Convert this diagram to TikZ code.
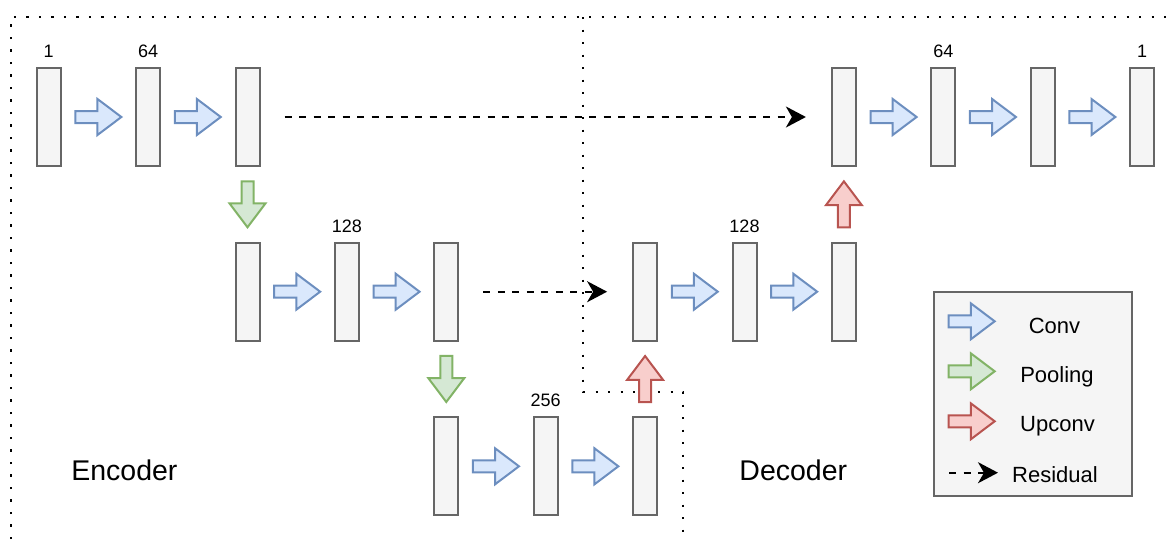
\documentclass[tikz,border=0pt]{standalone}
\usepackage{fontspec}
\setmainfont{Liberation Sans}
\usepackage{xcolor}
\usetikzlibrary{shapes.arrows,arrows.meta}

\definecolor{boxfill}{HTML}{F5F5F5}
\definecolor{boxline}{HTML}{666666}
\definecolor{convfill}{HTML}{DAE8FC}
\definecolor{convline}{HTML}{6C8EBF}
\definecolor{poolfill}{HTML}{D5E8D4}
\definecolor{poolline}{HTML}{82B366}
\definecolor{upfill}{HTML}{F8CECC}
\definecolor{upline}{HTML}{B85450}

\tikzset{
  block/.style={draw=boxline, fill=boxfill, line width=2pt, rectangle,
    minimum width=24pt, minimum height=98pt, inner sep=0pt},
  numlbl/.style={font=\fontsize{18}{20}\selectfont, inner sep=0pt, label distance=9pt},
  fatarrow/.style={single arrow, draw, line width=2pt, inner sep=5pt,
    minimum height=46pt, minimum width=34pt, single arrow head extend=12pt,
    single arrow tip angle=74},
  conv/.style={fatarrow, draw=convline, fill=convfill},
  pool/.style={fatarrow, draw=poolline, fill=poolfill, rotate=-90},
  upconv/.style={fatarrow, draw=upline, fill=upfill, rotate=90},
  residual/.style={line width=2pt, dash pattern=on 7pt off 7.5pt,
    -{Stealth[length=20pt, width=21pt, inset=6pt]}},
  frame/.style={line width=2.2pt, dash pattern=on 2.2pt off 10.3pt},
}

\begin{document}
\begin{tikzpicture}[x=1pt, y=-1pt, font=\fontsize{22}{24}\selectfont]
  \useasboundingbox (0,0) rectangle (1171,539);

  % dotted regions
  \draw[frame] (11,539) -- (11,17) -- (1171,17);
  \draw[frame] (583,17) -- (583,392) -- (683,392) -- (683,539);

  % encoder, level 1
  \node[block, label={[numlbl]above:1}] (e11) at (48.7,117) {};
  \node[block, label={[numlbl]above:64}] (e12) at (148.1,117) {};
  \node[block] (e13) at (247.5,117) {};
  \node[conv] (c11) at (94.4,117) {};
  \node[conv] (c12) at (193.8,117) {};

  % encoder, level 2
  \node[block] (e21) at (247.5,291.7) {};
  \node[block, label={[numlbl]above:128}] (e22) at (346.9,291.7) {};
  \node[block] (e23) at (446.3,291.7) {};
  \node[conv] (c21) at (293.2,291.7) {};
  \node[conv] (c22) at (392.6,291.7) {};

  % bottom level
  \node[block] (b1) at (446.3,466.3) {};
  \node[block, label={[numlbl]above:256}] (b2) at (545.7,466.3) {};
  \node[block] (b3) at (645.1,466.3) {};
  \node[conv] (c31) at (492.0,466.3) {};
  \node[conv] (c32) at (591.4,466.3) {};

  % decoder, level 2
  \node[block] (d21) at (645.1,291.7) {};
  \node[block, label={[numlbl]above:128}] (d22) at (744.5,291.7) {};
  \node[block] (d23) at (843.9,291.7) {};
  \node[conv] (c41) at (690.8,291.7) {};
  \node[conv] (c42) at (790.2,291.7) {};

  % decoder, level 1
  \node[block] (d11) at (843.9,117) {};
  \node[block, label={[numlbl]above:64}] (d12) at (943.3,117) {};
  \node[block] (d13) at (1042.7,117) {};
  \node[block, label={[numlbl]above:1}] (d14) at (1142.1,117) {};
  \node[conv] (c51) at (889.6,117) {};
  \node[conv] (c52) at (989.0,117) {};
  \node[conv] (c53) at (1088.4,117) {};

  % pooling / upconv
  \node[pool] (p1) at (247.5,200.3) {};
  \node[pool] (p2) at (446.3,375) {};
  \node[upconv] (u1) at (645.1,383) {};
  \node[upconv] (u2) at (843.9,208.3) {};

  % skip connections
  \draw[residual, shorten <=24pt, shorten >=25pt] (e13.east) -- (d11.west);
  \draw[residual, shorten <=24pt, shorten >=25pt] (e23.east) -- (d21.west);

  \node[anchor=base, font=\fontsize{28.5}{30}\selectfont] (enc) at (124.4,480.7) {Encoder};
  \node[anchor=base, font=\fontsize{28.5}{30}\selectfont] (dec) at (793.3,480.7) {Decoder};

  % legend
  \node[draw=boxline, fill=boxfill, line width=2pt, minimum width=198pt, minimum height=204pt] (legend) at (1033.3,394.2) {};
  \node[conv] (lconv) at (967.7,321.3) {};
  \node[fatarrow, draw=poolline, fill=poolfill] (lpool) at (967.7,371.3) {};
  \node[fatarrow, draw=upline, fill=upfill] (lup) at (967.7,421.3) {};
  \coordinate (lres1) at (949,472.7);
  \coordinate (lres2) at (998,472.7);
  \draw[residual] (lres1) -- (lres2);
  \node[anchor=base] (tconv) at (1054.5,333) {Conv};
  \node[anchor=base] (tpool) at (1057,382.7) {Pooling};
  \node[anchor=base] (tup) at (1057.5,431.7) {Upconv};
  \node[anchor=base] (tres) at (1055,482.7) {Residual};
\end{tikzpicture}
\end{document}
